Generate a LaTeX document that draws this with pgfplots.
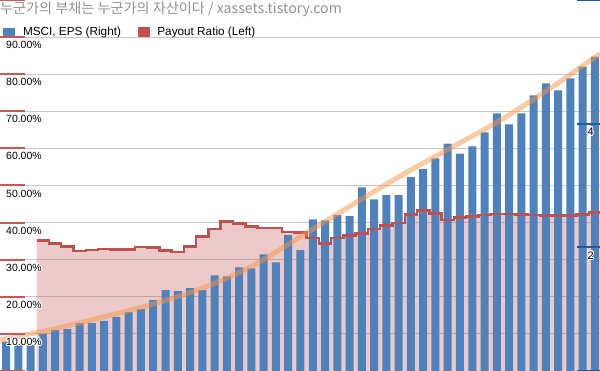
\documentclass[border=0pt]{standalone}
\usepackage{pgfplots}
\pgfplotsset{compat=1.18}
\usepackage{pgfplotstable}
\usepackage{fontspec}
\usepackage{contour}
\contourlength{0.9bp}
\contournumber{12}
\setmainfont{Liberation Sans}
\newfontfamily\krfont{Noto Sans CJK KR}
\definecolor{barblue}{RGB}{79,129,189}
\definecolor{payred}{RGB}{192,80,77}
\definecolor{tickred}{RGB}{205,85,85}
\definecolor{gridgray}{RGB}{200,200,200}
\definecolor{trendorange}{RGB}{247,150,70}
\definecolor{tickblue}{RGB}{30,90,160}
\definecolor{titlegray}{RGB}{145,145,145}
\newcommand{\hl}[1]{\contour{white}{#1}}

\pgfplotstableread{
x eps
0 0.477
1 0.424
2 0.424
3 0.602
4 0.666
5 0.677
6 0.774
7 0.774
8 0.811
9 0.876
10 0.952
11 1.000
12 1.145
13 1.306
14 1.290
15 1.339
16 1.306
17 1.548
18 1.532
19 1.677
20 1.661
21 1.887
22 1.758
23 2.198
24 1.956
25 2.452
26 2.435
27 2.521
28 2.505
29 2.968
30 2.774
31 2.844
32 2.844
33 3.134
34 3.263
35 3.440
36 3.677
37 3.516
38 3.634
39 3.860
40 4.166
41 3.989
42 4.166
43 4.456
44 4.650
45 4.537
46 4.731
47 4.924
48 5.085
}\epsdata

\pgfplotstableread{
x payout
2.5 35.2
3.5 34.4
4.5 33.5
5.5 32.4
6.5 32.6
7.5 32.9
8.5 32.7
9.5 32.7
10.5 33.4
11.5 33.3
12.5 32.5
13.5 32.1
14.5 33.5
15.5 36.3
16.5 38.3
17.5 40.3
18.5 39.8
19.5 39.0
20.5 38.5
21.5 38.6
22.5 37.4
23.5 37.3
24.5 35.9
25.5 34.4
26.5 35.9
27.5 36.5
28.5 37.1
29.5 38.3
30.5 39.2
31.5 39.9
32.5 42.2
33.5 43.2
34.5 42.5
35.5 40.7
36.5 41.4
37.5 41.7
38.5 42.0
39.5 42.3
40.5 42.3
41.5 42.2
42.5 42.0
43.5 41.9
44.5 41.9
45.5 41.9
46.5 42.2
47.5 42.7
48.5 42.7
}\payoutdata

\pgfplotstableread{
x trend
-0.489 0.500
3.586 0.666
7.661 0.860
11.736 1.069
15.811 1.327
19.886 1.680
23.961 2.166
28.036 2.666
32.111 3.150
36.186 3.602
40.261 4.053
44.336 4.569
48.411 5.134
}\trenddata

\pgfplotsset{
  base/.style={
    at={(0,0)}, anchor=south west,
    scale only axis, width=600bp, height=371bp,
    xmin=-0.489, xmax=48.411, xtick=\empty,
    axis line style={draw=none},
    tick align=inside,
  },
  leftax/.style={base, ymin=0, ymax=100},
  rightax/.style={base, ymin=0, ymax=6},
}

\begin{document}
\begin{tikzpicture}
% left axis: grid and payout area
\begin{axis}[leftax,
  axis x line=none, axis y line*=left,
  ytick={0,10,...,100}, yticklabels={},
  ymajorgrids, grid style={gridgray, line width=1bp},
  major tick length=0bp,
]
\addplot[fill=payred, fill opacity=0.3, draw=none, const plot mark left]
  table[x=x, y=payout] {\payoutdata} \closedcycle;
\end{axis}

% right axis: bars, ticks, legend
\begin{axis}[rightax,
  axis x line=none, axis y line*=right,
  axis on top,
  ybar, bar width=8bp,
  ytick={0,2,4,6},
  yticklabels={{},\hl{2},\hl{4},{}},
  major tick length=23bp,
  ytick style={tickblue, line width=2bp},
  yticklabel style={anchor=north east, inner sep=0pt, xshift=-6bp, yshift=-4bp,
    font=\fontsize{11}{12}\selectfont},
  legend columns=2,
  legend cell align=left,
  legend style={at={(0,1)}, anchor=north west, xshift=3bp, yshift=-27bp,
    draw=none, fill=none, inner sep=0pt, outer sep=0pt,
    font=\fontsize{11.8}{13}\selectfont,
    nodes={inner sep=0pt},
    /tikz/every odd column/.append style={column sep=8bp},
    /tikz/every even column/.append style={column sep=17bp}},
]
\addplot[fill=barblue, draw=none,
  legend image code/.code={\fill[barblue] (0bp,-4.5bp) rectangle (12bp,4.5bp);}]
  table[x=x, y=eps] {\epsdata};
\addlegendentry{MSCI, EPS (Right)}
\addlegendimage{legend image code/.code={\fill[payred] (0bp,-4.5bp) rectangle (11bp,4.5bp);}}
\addlegendentry{Payout Ratio (Left)}
\end{axis}

% payout line on top of bars
\begin{axis}[leftax, hide axis]
\addplot[payred, line width=2.5bp, const plot mark left]
  table[x=x, y=payout] {\payoutdata};
\end{axis}

% trend line
\begin{axis}[rightax, hide axis]
\addplot[trendorange, line width=5bp, opacity=0.5, smooth, tension=0.6]
  table[x=x, y=trend] {\trenddata};
\end{axis}

% left ticks, labels and title on top
\begin{axis}[leftax,
  axis x line=none, axis y line*=left,
  ytick={0,10,...,100},
  yticklabels={{},\hl{10.00\%},\hl{20.00\%},\hl{30.00\%},\hl{40.00\%},\hl{50.00\%},\hl{60.00\%},\hl{70.00\%},\hl{80.00\%},\hl{90.00\%},{}},
  major tick length=25bp,
  ytick style={tickred, line width=2bp},
  yticklabel style={anchor=north west, inner sep=0pt, xshift=6bp, yshift=-4bp,
    font=\fontsize{10.5}{12}\selectfont},
  every axis title shift=0pt,
  title={\krfont 누군가의 부채는 누군가의 자산이다 / xassets.tistory.com},
  title style={at={(0,1)}, anchor=north west, inner sep=0pt, xshift=0bp, yshift=-2bp,
    font=\fontsize{14.2}{16}\selectfont, text=titlegray},
]
\addplot[draw=none, forget plot] coordinates {(0,0)};
\end{axis}

\pgfresetboundingbox
\path[use as bounding box] (0,0) rectangle (600bp,371bp);
\end{tikzpicture}
\end{document}
